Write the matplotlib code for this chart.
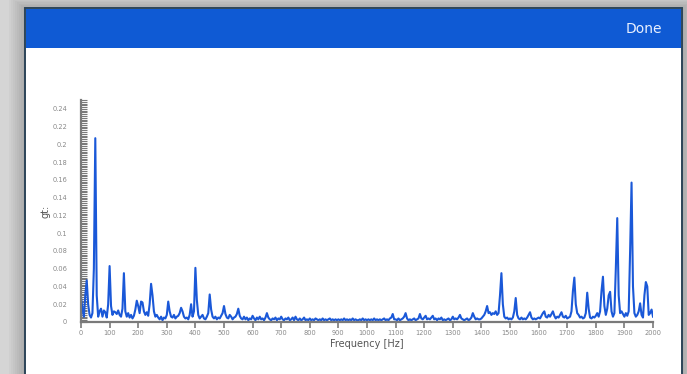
import matplotlib
matplotlib.use("Agg")
from matplotlib import pyplot as plt
from matplotlib.patches import Rectangle
from matplotlib.ticker import MultipleLocator, FuncFormatter
import numpy as np

# spectrum, one value every 5 Hz (one row per 100 Hz)
freq_step = 5
amplitudes = [
  0.028, 0.015, 0.006, 0.030, 0.047, 0.020, 0.008, 0.005, 0.010, 0.060, 0.207, 0.030, 0.006, 0.012, 0.015, 0.006, 0.013, 0.011, 0.005, 0.020,
  0.063, 0.018, 0.008, 0.012, 0.011, 0.009, 0.013, 0.008, 0.006, 0.015, 0.055, 0.012, 0.006, 0.010, 0.005, 0.008, 0.004, 0.007, 0.014, 0.024,
  0.018, 0.010, 0.023, 0.022, 0.012, 0.008, 0.011, 0.007, 0.020, 0.043, 0.030, 0.012, 0.006, 0.008, 0.005, 0.003, 0.006, 0.002, 0.005, 0.004,
  0.008, 0.023, 0.012, 0.006, 0.005, 0.008, 0.004, 0.006, 0.007, 0.010, 0.016, 0.012, 0.006, 0.004, 0.005, 0.003, 0.008, 0.020, 0.006, 0.012,
  0.061, 0.025, 0.008, 0.004, 0.006, 0.008, 0.004, 0.003, 0.006, 0.010, 0.031, 0.014, 0.006, 0.004, 0.006, 0.003, 0.005, 0.004, 0.007, 0.010,
  0.018, 0.009, 0.005, 0.004, 0.008, 0.006, 0.003, 0.005, 0.006, 0.009, 0.015, 0.007, 0.004, 0.003, 0.006, 0.003, 0.005, 0.002, 0.004, 0.003,
  0.007, 0.004, 0.002, 0.005, 0.003, 0.006, 0.003, 0.004, 0.002, 0.005, 0.010, 0.005, 0.003, 0.002, 0.004, 0.003, 0.005, 0.002, 0.004, 0.003,
  0.006, 0.003, 0.002, 0.004, 0.003, 0.005, 0.002, 0.003, 0.005, 0.002, 0.006, 0.003, 0.002, 0.004, 0.002, 0.003, 0.005, 0.002, 0.003, 0.002,
  0.004, 0.002, 0.003, 0.002, 0.004, 0.003, 0.002, 0.003, 0.002, 0.004, 0.002, 0.003, 0.002, 0.003, 0.004, 0.002, 0.003, 0.002, 0.003, 0.002,
  0.003, 0.002, 0.003, 0.002, 0.004, 0.002, 0.003, 0.002, 0.003, 0.002, 0.004, 0.002, 0.003, 0.002, 0.002, 0.003, 0.002, 0.004, 0.002, 0.003,
  0.002, 0.003, 0.002, 0.003, 0.002, 0.004, 0.002, 0.003, 0.002, 0.003, 0.002, 0.003, 0.004, 0.002, 0.003, 0.002, 0.004, 0.005, 0.009, 0.003,
  0.003, 0.002, 0.004, 0.002, 0.003, 0.004, 0.006, 0.010, 0.004, 0.002, 0.003, 0.002, 0.003, 0.004, 0.002, 0.003, 0.004, 0.009, 0.004, 0.003,
  0.005, 0.007, 0.003, 0.004, 0.003, 0.005, 0.007, 0.003, 0.004, 0.002, 0.004, 0.003, 0.005, 0.002, 0.003, 0.002, 0.003, 0.004, 0.002, 0.003,
  0.006, 0.003, 0.004, 0.003, 0.005, 0.008, 0.004, 0.003, 0.002, 0.003, 0.004, 0.002, 0.003, 0.005, 0.010, 0.006, 0.003, 0.004, 0.003, 0.003,
  0.004, 0.006, 0.008, 0.012, 0.018, 0.010, 0.011, 0.008, 0.010, 0.009, 0.012, 0.008, 0.010, 0.030, 0.055, 0.020, 0.006, 0.004, 0.005, 0.003,
  0.004, 0.003, 0.005, 0.012, 0.027, 0.008, 0.004, 0.003, 0.005, 0.003, 0.004, 0.003, 0.005, 0.008, 0.011, 0.005, 0.003, 0.004, 0.003, 0.004,
  0.005, 0.004, 0.007, 0.010, 0.012, 0.006, 0.005, 0.008, 0.006, 0.009, 0.012, 0.007, 0.004, 0.006, 0.005, 0.008, 0.011, 0.006, 0.005, 0.007,
  0.004, 0.005, 0.006, 0.012, 0.035, 0.050, 0.020, 0.010, 0.008, 0.005, 0.006, 0.004, 0.005, 0.010, 0.033, 0.015, 0.005, 0.004, 0.006, 0.005,
  0.007, 0.010, 0.006, 0.012, 0.035, 0.051, 0.018, 0.008, 0.015, 0.030, 0.034, 0.012, 0.006, 0.010, 0.060, 0.117, 0.030, 0.010, 0.012, 0.009,
  0.006, 0.010, 0.007, 0.012, 0.080, 0.157, 0.040, 0.010, 0.006, 0.008, 0.012, 0.021, 0.008, 0.005, 0.030, 0.045, 0.040, 0.008, 0.010, 0.014,
  0.006,
]
freqs = np.arange(len(amplitudes)) * freq_step

W, H = 687, 374
fig = plt.figure(figsize=(W/100, H/100), dpi=100)
fig.patch.set_facecolor("#d5d5d5")

#---------------------------------------------------------------------------------------------
# dialog frame: soft shadow, white panel, blue header
px = lambda x: x / W
py = lambda y: 1 - y / H
for i in range(8, 0, -1):
  fig.patches.append(Rectangle((px(25 - 2*i), py(384)), px(657 + 4*i), (376 + 1.5*i) / H,
                               transform=fig.transFigure, facecolor="black", alpha=0.025, lw=0, zorder=0))
fig.patches.append(Rectangle((px(25), py(380)), px(657), 372 / H, transform=fig.transFigure,
                             facecolor="white", edgecolor="#2c4458", lw=1.4, zorder=1))
fig.patches.append(Rectangle((px(26), py(48)), px(655), 39 / H, transform=fig.transFigure,
                             facecolor="#0f5ad4", lw=0, zorder=2))
fig.text(px(644), py(29), "Done", color="#e8f0ff", fontsize=10, ha="center", va="center", zorder=3)

#---------------------------------------------------------------------------------------------
ax = fig.add_axes([px(81), py(322), px(572), 222 / H])
ax.set_zorder(5)
ax.set_facecolor("none")
ax.plot(freqs, amplitudes, color="#1a58d8", lw=1.5)

ax.set_xlim(0, 2000)
ax.set_ylim(0, 0.25)
ax.xaxis.set_major_locator(MultipleLocator(100))
ax.yaxis.set_major_locator(MultipleLocator(0.02))
ax.yaxis.set_minor_locator(MultipleLocator(0.002))
ax.yaxis.set_major_formatter(FuncFormatter(lambda v, p: "%g" % round(v, 3) if v <= 0.241 else ""))

for s in ["top", "right"]:
  ax.spines[s].set_visible(False)
for s in ["left", "bottom"]:
  ax.spines[s].set_color("#7a7a7a")
  ax.spines[s].set_linewidth(1.6)

ax.tick_params(axis="x", direction="out", length=4, width=1.2, color="#7a7a7a",
               labelsize=4.8, labelcolor="#888888", pad=2)
ax.tick_params(axis="y", which="both", direction="in", length=4, width=0.8, color="#7a7a7a",
               labelsize=4.8, labelcolor="#888888", pad=10)

ax.set_xlabel("Frequency [Hz]", fontsize=7, color="#555555", labelpad=2)
ax.set_ylabel("gt:", fontsize=7, color="#555555", labelpad=1.5)

plt.savefig("out.png", dpi=100, facecolor=fig.get_facecolor())
